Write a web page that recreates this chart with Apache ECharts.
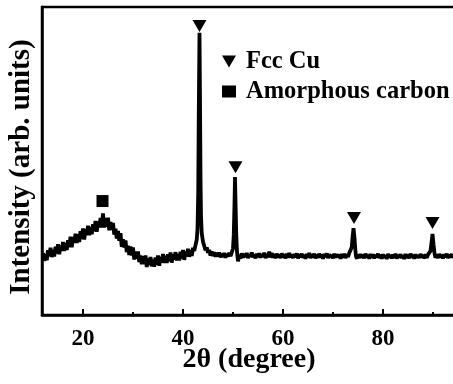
<!DOCTYPE html>
<html>
<head>
<meta charset="utf-8">
<script src="https://cdn.jsdelivr.net/npm/echarts@6/dist/echarts.min.js"></script>
<style>
  html, body { margin: 0; padding: 0; background: #fff; }
  #chart { width: 453px; height: 384px; }
</style>
</head>
<body>
<div id="chart"></div>
<script>
// XRD scan: [2theta (deg), intensity (arb. units, 0-100)]
const xrdScan = [
  [12.00, 20.1], [12.25, 17.6], [12.50, 19.8], [12.75, 17.8], [13.00, 21.0], [13.25, 19.1], [13.50, 21.8], [13.75, 18.8],
  [14.00, 21.2], [14.25, 19.0], [14.50, 22.2], [14.75, 20.0], [15.00, 23.0], [15.25, 19.7], [15.50, 22.6], [15.75, 20.8],
  [16.00, 23.7], [16.25, 20.8], [16.50, 23.4], [16.75, 21.1], [17.00, 24.3], [17.25, 22.0], [17.50, 25.4], [17.75, 22.0],
  [18.00, 25.3], [18.25, 23.4], [18.50, 26.4], [18.75, 23.4], [19.00, 26.2], [19.25, 23.7], [19.50, 27.2], [19.75, 24.7],
  [20.00, 28.1], [20.25, 24.5], [20.50, 27.9], [20.75, 25.9], [21.00, 29.0], [21.25, 25.9], [21.50, 28.6], [21.75, 26.2],
  [22.00, 29.5], [22.25, 27.2], [22.50, 30.5], [22.75, 27.0], [23.00, 30.4], [23.25, 28.4], [23.50, 31.5], [23.75, 28.4],
  [24.00, 33.0], [24.25, 28.4], [24.50, 31.5], [24.75, 28.7], [25.00, 31.6], [25.25, 27.5], [25.50, 30.2], [25.75, 27.6],
  [26.00, 29.9], [26.25, 26.1], [26.50, 28.0], [26.75, 24.8], [27.00, 27.3], [27.25, 24.1], [27.50, 26.6], [27.75, 22.1],
  [28.00, 24.6], [28.25, 21.9], [28.50, 24.2], [28.75, 20.4], [29.00, 22.5], [29.25, 19.5], [29.50, 22.2], [29.75, 19.3],
  [30.00, 21.9], [30.25, 18.0], [30.50, 20.6], [30.75, 18.3], [31.00, 20.6], [31.25, 17.2], [31.50, 19.3], [31.75, 16.5],
  [32.00, 19.1], [32.25, 16.5], [32.50, 19.3], [32.75, 15.6], [33.00, 18.3], [33.25, 16.3], [33.50, 18.8], [33.75, 15.8],
  [34.00, 18.0], [34.25, 15.7], [34.50, 18.7], [34.75, 16.3], [35.00, 19.3], [35.25, 16.0], [35.50, 18.9], [35.75, 17.0],
  [36.00, 19.8], [36.25, 16.9], [36.50, 19.2], [36.75, 16.9], [37.00, 19.7], [37.25, 17.5], [37.50, 20.3], [37.75, 17.0],
  [38.00, 19.7], [38.25, 18.0], [38.50, 20.4], [38.75, 17.7], [39.00, 19.8], [39.25, 17.7], [39.50, 20.5], [39.75, 18.4],
  [40.00, 21.1], [40.25, 17.9], [40.50, 20.6], [40.75, 19.1], [41.00, 21.5], [41.25, 18.9], [41.50, 21.1], [41.75, 19.2],
  [42.00, 21.8], [42.25, 20.8], [42.50, 22.7], [42.75, 24.5], [42.90, 28.0], [43.05, 40.0], [43.15, 65.0], [43.30, 91.6],
  [43.40, 70.0], [43.50, 45.0], [43.60, 32.0], [43.75, 26.5], [44.00, 23.8], [44.25, 22.4], [44.50, 21.0], [44.75, 21.9],
  [45.00, 20.2], [45.25, 21.1], [45.50, 19.3], [45.75, 20.6], [46.00, 19.2], [46.25, 20.4], [46.50, 18.9], [46.75, 20.2],
  [47.00, 19.0], [47.25, 20.3], [47.50, 18.7], [47.75, 19.8], [48.00, 18.9], [48.25, 20.1], [48.50, 18.6], [48.75, 19.9],
  [49.00, 19.0], [49.25, 20.2], [49.50, 19.1], [49.75, 20.3], [50.00, 21.6], [50.15, 26.0], [50.30, 36.0], [50.40, 44.8],
  [50.50, 37.0], [50.65, 26.0], [50.80, 20.5], [51.00, 17.4], [51.25, 19.5], [51.50, 18.3], [51.75, 20.0],
  [52.00, 18.6], [52.25, 19.9], [52.50, 18.8], [52.75, 20.1], [53.00, 18.5], [53.25, 19.7], [53.50, 18.9], [53.75, 20.3],
  [54.00, 18.7], [54.25, 19.6], [54.50, 18.4], [54.75, 19.9], [55.00, 18.8], [55.25, 20.0], [55.50, 18.6], [55.75, 19.8],
  [56.00, 18.9], [56.25, 20.2], [56.50, 18.5], [56.75, 19.7], [57.00, 18.7], [57.25, 20.6], [57.50, 18.8], [57.75, 20.1],
  [58.00, 18.6], [58.25, 19.8], [58.50, 18.4], [58.75, 19.9], [59.00, 18.8], [59.25, 19.6], [59.50, 18.5], [59.75, 20.0],
  [60.00, 18.7], [60.25, 19.7], [60.50, 18.4], [60.75, 19.9], [61.00, 18.6], [61.25, 20.1], [61.50, 18.8], [61.75, 19.6],
  [62.00, 18.5], [62.25, 19.8], [62.50, 18.7], [62.75, 20.0], [63.00, 18.4], [63.25, 19.7], [63.50, 18.8], [63.75, 19.9],
  [64.00, 18.6], [64.25, 19.5], [64.50, 18.3], [64.75, 19.8], [65.00, 18.7], [65.25, 20.1], [65.50, 18.5], [65.75, 19.7],
  [66.00, 18.8], [66.25, 19.9], [66.50, 18.4], [66.75, 19.6], [67.00, 18.6], [67.25, 19.9], [67.50, 18.7], [67.75, 19.6],
  [68.00, 18.3], [68.25, 19.8], [68.50, 18.8], [68.75, 20.0], [69.00, 18.5], [69.25, 19.7], [69.50, 18.7], [69.75, 19.5],
  [70.00, 18.4], [70.25, 19.9], [70.50, 18.6], [70.75, 19.7], [71.00, 18.8], [71.25, 19.6], [71.50, 18.3], [71.75, 19.8],
  [72.00, 18.6], [72.25, 19.9], [72.50, 18.5], [72.75, 19.7], [73.00, 18.9], [73.25, 20.1], [73.50, 19.6], [73.75, 22.0],
  [73.90, 25.0], [74.10, 28.2], [74.30, 25.0], [74.45, 21.5], [74.60, 19.0], [74.80, 18.3], [75.00, 19.7], [75.25, 18.5],
  [75.50, 19.8], [75.75, 18.6], [76.00, 19.6], [76.25, 18.4], [76.50, 19.9], [76.75, 18.7], [77.00, 19.5], [77.25, 18.3],
  [77.50, 19.8], [77.75, 18.6], [78.00, 19.7], [78.25, 18.4], [78.50, 19.5], [78.75, 18.8], [79.00, 19.9], [79.25, 18.5],
  [79.50, 19.6], [79.75, 18.3], [80.00, 19.7], [80.25, 18.6], [80.50, 19.4], [80.75, 18.2], [81.00, 19.8], [81.25, 18.7],
  [81.50, 19.5], [81.75, 18.4], [82.00, 19.6], [82.25, 18.6], [82.50, 19.9], [82.75, 18.3], [83.00, 19.5], [83.25, 18.7],
  [83.50, 19.7], [83.75, 18.5], [84.00, 19.4], [84.25, 18.2], [84.50, 19.8], [84.75, 18.6], [85.00, 19.6], [85.25, 18.4],
  [85.50, 19.9], [85.75, 18.7], [86.00, 19.5], [86.25, 18.3], [86.50, 19.7], [86.75, 18.6], [87.00, 19.4], [87.25, 18.5],
  [87.50, 19.8], [87.75, 18.7], [88.00, 19.5], [88.25, 18.4], [88.50, 19.7], [88.75, 18.6], [89.00, 19.6], [89.25, 19.2],
  [89.50, 20.8], [89.70, 23.5], [89.90, 26.3], [90.10, 23.0], [90.30, 20.0], [90.50, 18.6], [90.75, 19.7], [91.00, 18.5],
  [91.25, 19.8], [91.50, 18.7], [91.75, 19.6], [92.00, 18.4], [92.25, 19.7], [92.50, 18.8], [92.75, 19.9], [93.00, 18.5],
  [93.25, 19.6], [93.50, 18.7], [93.75, 19.8], [94.00, 18.6], [94.25, 19.5], [94.50, 18.8]
];

// peak markers
const cuPeakX = [43.3, 50.5, 74.2, 89.9];
const cuPeakY = [93.8, 48.0, 31.5, 29.9];
const carbonPeakX = [23.9];
const carbonPeakY = [37.0];

const xTicks = [20, 40, 60, 80];
const xMinorTicks = [30, 50, 70, 90];

const font = "'Liberation Serif', 'Times New Roman', serif";
const downTriangle = "path://M0,0 L14,0 L7,12 Z";

const chart = echarts.init(document.getElementById("chart"), null, { renderer: "canvas" });

const option = {
  animation: false,
  grid: {
    left: 42,
    right: -3,
    top: 7,
    bottom: 69,
    outerBoundsMode: "none",
    show: true,
    borderColor: "#000",
    borderWidth: 2.5,
  },
  legend: {
    orient: "vertical",
    left: 217,
    top: 44,
    itemWidth: 14,
    itemHeight: 12,
    itemGap: 5,
    textStyle: {
      fontFamily: font,
      fontWeight: "bold",
      fontSize: 24.5,
      color: "#000",
      padding: [0, 0, 0, 5],
    },
    data: [
      { name: "Fcc Cu", icon: downTriangle, itemStyle: { color: "#000", opacity: 1 } },
      { name: "Amorphous carbon", icon: "rect", itemStyle: { color: "#000", opacity: 1 } },
    ],
  },
  xAxis: [
    {
      type: "value",
      min: 11.8,
      max: 94.6,
      position: "bottom",
      name: "2θ (degree)",
      nameLocation: "middle",
      nameGap: 31,
      nameMoveOverlap: false,
      nameTextStyle: { fontFamily: font, fontWeight: "bold", fontSize: 28, color: "#000" },
      axisLine: { show: true, lineStyle: { color: "#000", width: 2.5 } },
      axisTick: { show: true, inside: true, length: 6, customValues: xTicks, lineStyle: { color: "#000", width: 2 } },
      axisLabel: { customValues: xTicks, margin: 13, fontFamily: font, fontWeight: "bold", fontSize: 23, color: "#000" },
      splitLine: { show: false },
    },
    {
      type: "value",
      min: 11.8,
      max: 94.6,
      position: "bottom",
      axisLine: { show: false },
      axisTick: { show: true, inside: true, length: 3, customValues: xMinorTicks, lineStyle: { color: "#000", width: 2 } },
      axisLabel: { show: false },
      splitLine: { show: false },
    },
  ],
  yAxis: {
    type: "value",
    min: 0,
    max: 100,
    name: "Intensity (arb. units)",
    nameLocation: "middle",
    nameGap: 6,
    nameTextStyle: { fontFamily: font, fontWeight: "bold", fontSize: 29, color: "#000", padding: [0, 12, 0, 0] },
    axisLine: { show: true, lineStyle: { color: "#000", width: 2.5 } },
    axisTick: { show: false },
    axisLabel: { show: false },
    splitLine: { show: false },
  },
  series: [
    {
      name: "XRD",
      type: "line",
      xAxisIndex: 0,
      showSymbol: false,
      lineStyle: { color: "#000", width: 3.8 },
      data: xrdScan,
    },
    {
      name: "Fcc Cu",
      type: "scatter",
      symbol: downTriangle,
      symbolSize: [14, 12],
      itemStyle: { color: "#000", opacity: 1 },
      data: cuPeakX.map((x, i) => [x, cuPeakY[i]]),
    },
    {
      name: "Amorphous carbon",
      type: "scatter",
      symbol: "rect",
      symbolSize: 12,
      itemStyle: { color: "#000", opacity: 1 },
      data: carbonPeakX.map((x, i) => [x, carbonPeakY[i]]),
    },
  ],
};

chart.setOption(option);
</script>
</body>
</html>
